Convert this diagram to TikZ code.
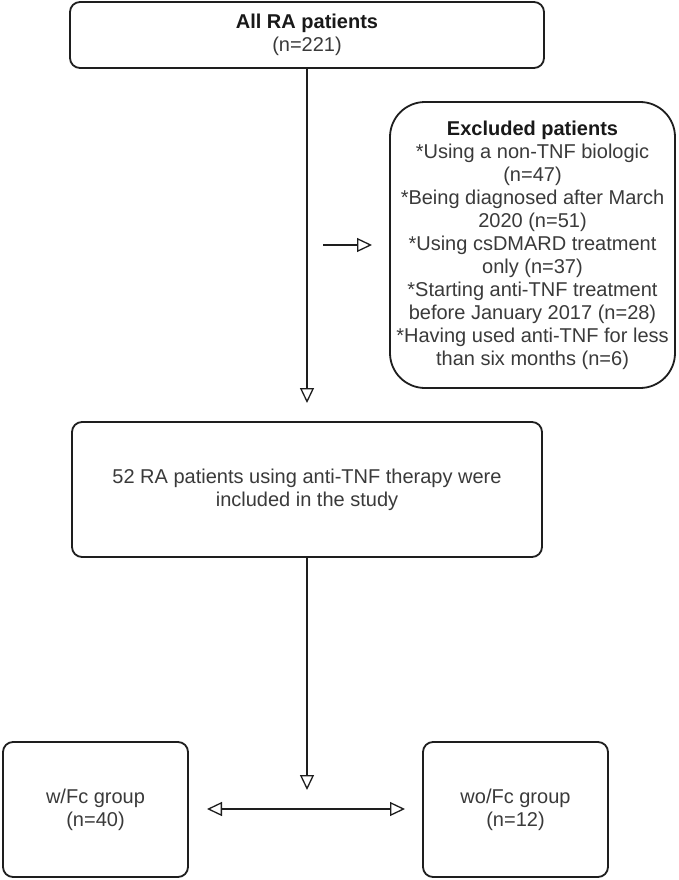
\documentclass[tikz,border=0pt]{standalone}
\usepackage{fontspec}
\setmainfont{Liberation Sans}
\usetikzlibrary{arrows.meta}
\definecolor{txt}{HTML}{3A3A3A}
\definecolor{edge}{HTML}{1E1E1E}
\tikzset{
  box/.style={draw=edge, line width=1.8pt, rounded corners=10pt, align=center,
    inner sep=0pt, text=txt, font=\fontsize{20}{23}\selectfont},
  conn/.style={draw=edge, line width=1.3pt, -{Triangle[open, length=15pt, width=14pt, line width=1.3pt]}},
  conntwo/.style={draw=edge, line width=1.3pt, {Triangle[open, length=15pt, width=14pt, line width=1.3pt]}-{Triangle[open, length=15pt, width=14pt, line width=1.3pt]}}
}
\begin{document}
\begin{tikzpicture}[x=1pt,y=-1pt]
\useasboundingbox[fill=white] (0,0) rectangle (678,880);
\node[box, minimum width=474pt, minimum height=66pt] (top) at (307,35)
  {\textcolor{black!90}{\textbf{All RA patients}}\\(n=221)};
\node[box, rounded corners=35pt, minimum width=285pt, minimum height=286pt] (exc) at (532.5,245)
  {\textcolor{black!90}{\textbf{Excluded patients}}\\
   *Using a non-TNF biologic\\(n=47)\\
   *Being diagnosed after March\\2020 (n=51)\\
   *Using csDMARD treatment\\only (n=37)\\
   *Starting anti-TNF treatment\\before January 2017 (n=28)\\
   *Having used anti-TNF for less\\than six months (n=6)};
\node[box, minimum width=470pt, minimum height=135pt] (mid) at (307,489.5)
  {52 RA patients using anti-TNF therapy were\\included in the study};
\node[box, minimum width=185pt, minimum height=135pt] (wfc) at (95.5,809.5)
  {w/Fc group\\(n=40)};
\node[box, minimum width=185pt, minimum height=135pt] (wofc) at (515.5,809.5)
  {wo/Fc group\\(n=12)};
\coordinate (t1) at (307,403);
\draw[conn] (top.south) -- (t1);
\coordinate (e0) at (323,245);
\coordinate (e1) at (372,245);
\draw[conn] (e0) -- (e1);
\coordinate (t2) at (307,790);
\draw[conn] (mid.south) -- (t2);
\coordinate (l1) at (207,809);
\coordinate (r1) at (405,809);
\draw[conntwo] (l1) -- (r1);
\end{tikzpicture}
\end{document}
